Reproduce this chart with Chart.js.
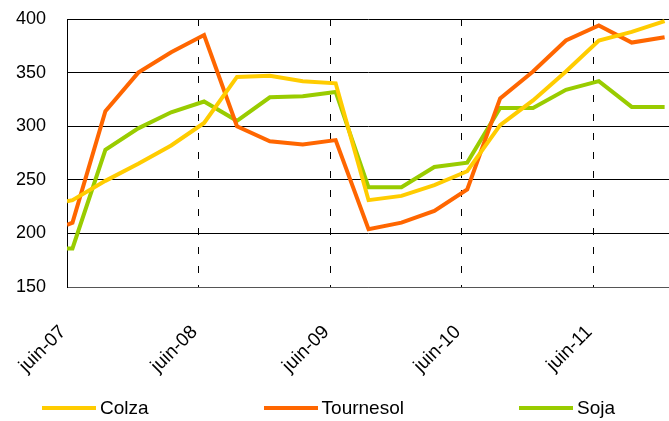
<!DOCTYPE html>
<html>
<head>
<meta charset="utf-8">
<script src="https://cdn.jsdelivr.net/npm/chart.js@4"></script>
<style>
  html, body { margin: 0; padding: 0; background: #fff; }
  #wrap { position: relative; width: 669px; height: 421px; }
  #legend {
    position: absolute; left: 42px; top: 397px;
    display: flex; gap: 115px;
    font-family: 'Liberation Sans', Arial, sans-serif; font-size: 19px; color: #000;
  }
  .item { display: flex; align-items: center; }
  .swatch { width: 54px; height: 4px; margin-right: 4px; }
</style>
</head>
<body>
<div id="wrap">
  <canvas id="chart" width="669" height="421"></canvas>
  <div id="legend"></div>
</div>
<script>
// months since juin-07
const months = [0, 0.5, 3.5, 6.5, 9.5, 12.5, 15.5, 18.5, 21.5, 24.5, 27.5, 30.5, 33.5, 36.5, 39.5, 42.5, 45.5, 48.5, 51.5, 54.5];

const colza     = [230, 231, 249, 265, 282, 303, 346, 347, 342, 340, 231, 235, 245, 258, 301, 324, 351, 380, 388, 398];
const tournesol = [208, 210, 314, 350, 369, 385, 300, 286, 283, 287, 204, 210, 221, 241, 326, 351, 380, 394, 378, 383];
const soja      = [186, 186, 278, 298, 313, 323, 305, 327, 328, 332, 243, 243, 262, 266, 317, 317, 334, 342, 318, 318];

const tickMonths = [0, 12, 24, 36, 48];
const tickLabels = ['juin-07', 'juin-08', 'juin-09', 'juin-10', 'juin-11'];
const yTicks = [150, 200, 250, 300, 350, 400];

const series = [
  { label: 'Colza', values: colza, color: '#FFCC00' },
  { label: 'Tournesol', values: tournesol, color: '#FF6600' },
  { label: 'Soja', values: soja, color: '#99CC00' }
];

const font = "'Liberation Sans', Arial, sans-serif";

new Chart(document.getElementById('chart'), {
  type: 'line',
  data: {
    datasets: series.map(s => ({
      label: s.label,
      data: s.values.map((v, i) => ({ x: months[i], y: v })),
      borderColor: s.color,
      backgroundColor: s.color,
      borderWidth: 4,
      pointRadius: 0,
      tension: 0,
      fill: false
    }))
  },
  options: {
    responsive: false,
    devicePixelRatio: 1,
    animation: false,
    layout: { padding: { top: 19, left: 0, right: 0, bottom: 0 } },
    plugins: {
      legend: { display: false },
      tooltip: { enabled: false }
    },
    scales: {
      x: {
        type: 'linear',
        min: 0,
        max: 54.9,
        afterBuildTicks: scale => {
          scale.ticks = tickMonths.map(v => ({ value: v }));
        },
        afterFit: scale => {
          scale.height = 134;
          scale.paddingLeft = 0;
          scale.paddingRight = 0;
        },
        ticks: {
          autoSkip: false,
          maxRotation: 45,
          minRotation: 45,
          padding: 34,
          labelOffset: -4,
          color: '#000',
          font: { family: font, size: 19 },
          callback: v => tickLabels[tickMonths.indexOf(v)]
        },
        grid: {
          drawTicks: false,
          color: ctx => (ctx.tick && ctx.tick.value === 0) ? 'rgba(0,0,0,0)' : '#000',
          lineWidth: 1
        },
        // in v4 border.dash styles the grid lines
        border: { display: true, color: '#555', width: 1, dash: [7, 12] }
      },
      y: {
        min: 150,
        max: 400,
        afterBuildTicks: scale => {
          scale.ticks = yTicks.map(v => ({ value: v }));
        },
        afterFit: scale => {
          scale.width = 67;
          scale.paddingTop = 0;
          scale.paddingBottom = 0;
        },
        ticks: {
          padding: 21,
          color: '#000',
          font: { family: font, size: 18 }
        },
        grid: {
          drawTicks: false,
          color: ctx => (ctx.tick && ctx.tick.value === 150) ? '#555' : '#000',
          lineWidth: 1
        },
        border: { display: true, color: '#000', width: 1 }
      }
    }
  }
});

const legend = document.getElementById('legend');
series.forEach(s => {
  const item = document.createElement('div');
  item.className = 'item';
  item.innerHTML = `<span class="swatch" style="background:${s.color}"></span><span>${s.label}</span>`;
  legend.appendChild(item);
});
</script>
</body>
</html>
